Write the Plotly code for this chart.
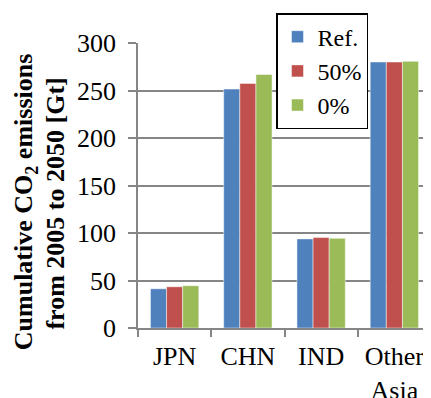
import plotly.graph_objects as go

categories = ["JPN", "CHN", "IND", "Other<br>Asia"]
ref_vals = [41.3, 251.5, 93.8, 280.0]
p50_vals = [43.4, 257.5, 95.2, 280.0]
p0_vals = [44.5, 266.8, 94.4, 280.7]
series_names = ["Ref.", "50%", "0%"]
colors = ["#4F81BD", "#C0504D", "#9BBB59"]
y_ticks = [0, 50, 100, 150, 200, 250, 300]
title_lines = ["Cumulative CO<sub>2</sub> emissions", "from 2005 to 2050 [Gt]"]

FONT = "Liberation Serif"

fig = go.Figure()
for name, vals, col in zip(series_names, [ref_vals, p50_vals, p0_vals], colors):
    fig.add_trace(go.Bar(
        x=categories, y=vals, name=name,
        marker=dict(color=col, line=dict(color="rgba(255,255,255,0.6)", width=0.8)),
    ))

fig.update_layout(
    width=423, height=390,
    margin=dict(l=130, r=0, t=35, b=70, autoexpand=False),
    paper_bgcolor="white", plot_bgcolor="white",
    barmode="group", bargap=0.34, bargroupgap=0,
    font=dict(family=FONT, size=26, color="black"),
    showlegend=True,
    legend=dict(
        x=0.471, y=1.105, xanchor="left", yanchor="top",
        bgcolor="white", bordercolor="black", borderwidth=1.5,
        font=dict(family=FONT, size=24, color="black"),
        itemwidth=30, tracegroupgap=0,
    ),
    xaxis=dict(
        showline=True, linecolor="#868686", linewidth=1.5,
        ticks="outside", tickson="boundaries", ticklen=7, tickcolor="#868686", tickwidth=1.5,
        tickfont=dict(family=FONT, size=26, color="black"), showgrid=False, ticklabelstandoff=4,
        automargin=False,
    ),
    yaxis=dict(
        range=[0, 300], tickvals=y_ticks,
        showline=True, linecolor="#868686", linewidth=1.5,
        ticks="outside", ticklen=8, tickcolor="#868686", tickwidth=1.5,
        showgrid=True, gridcolor="#868686", gridwidth=1.5,
        tickfont=dict(family=FONT, size=26, color="black"), ticklabelstandoff=7,
        zeroline=False, automargin=False,
    ),
    annotations=[
        dict(text="<b>" + title_lines[0] + "</b>", xref="paper", yref="paper",
             x=-0.385, y=0.442, xanchor="center", yanchor="middle",
             textangle=-90, showarrow=False, font=dict(family=FONT, size=26, color="black")),
        dict(text="<b>" + title_lines[1] + "</b>", xref="paper", yref="paper",
             x=-0.283, y=0.437, xanchor="center", yanchor="middle",
             textangle=-90, showarrow=False, font=dict(family=FONT, size=26, color="black")),
    ],
)

fig.write_html("out.html")
